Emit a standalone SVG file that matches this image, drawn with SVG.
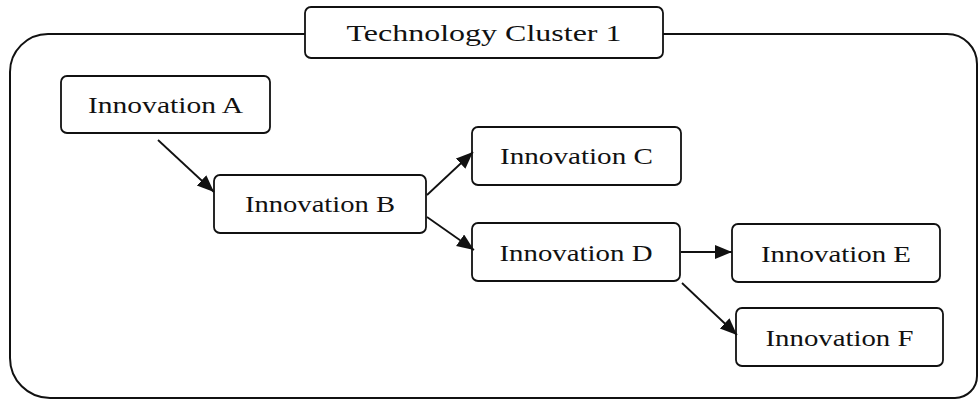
<svg xmlns="http://www.w3.org/2000/svg" width="979" height="400" viewBox="0 0 979 400">
<style>
.box{fill:#fff;stroke:#111;stroke-width:1.8}
.frame{fill:none;stroke:#111;stroke-width:2}
.lbl{font-family:"Liberation Serif","DejaVu Serif",serif;font-size:23px;fill:#111;text-anchor:middle}
.conn{stroke:#111;stroke-width:1.8;fill:none}
</style>
<defs>
<marker id="ah" markerUnits="userSpaceOnUse" markerWidth="18" markerHeight="16" refX="17" refY="7" orient="auto">
<path d="M0,0 L17,7 L0,14 z" fill="#111"/>
</marker>
</defs>
<g id="cluster">
<path class="frame" d="M305,34 H48 A38 38 0 0 0 10,72 V358 A40 40 0 0 0 50,398 H955 A22 22 0 0 0 977,376 V64 A30 30 0 0 0 947,34 H663"/>
</g>
<g id="title">
<rect class="box" x="305" y="7" width="358" height="51" rx="6"/>
<text class="lbl" x="484" y="41" textLength="275" lengthAdjust="spacingAndGlyphs">Technology  Cluster  1</text>
</g>
<g id="innovA">
<rect class="box" x="61" y="76" width="209" height="57" rx="6"/>
<text class="lbl" x="165.5" y="113" textLength="155" lengthAdjust="spacingAndGlyphs">Innovation  A</text>
</g>
<g id="innovB">
<rect class="box" x="214" y="175" width="212" height="58" rx="6"/>
<text class="lbl" x="320" y="212" textLength="150" lengthAdjust="spacingAndGlyphs">Innovation  B</text>
</g>
<g id="innovC">
<rect class="box" x="472" y="127" width="209" height="58" rx="6"/>
<text class="lbl" x="576.5" y="164" textLength="153" lengthAdjust="spacingAndGlyphs">Innovation  C</text>
</g>
<g id="innovD">
<rect class="box" x="472" y="223" width="208" height="58" rx="6"/>
<text class="lbl" x="576" y="261" textLength="153" lengthAdjust="spacingAndGlyphs">Innovation  D</text>
</g>
<g id="innovE">
<rect class="box" x="732" y="224" width="208" height="58" rx="6"/>
<text class="lbl" x="836" y="262" textLength="150" lengthAdjust="spacingAndGlyphs">Innovation  E</text>
</g>
<g id="innovF">
<rect class="box" x="736" y="308" width="207" height="58" rx="6"/>
<text class="lbl" x="839.5" y="346" textLength="148" lengthAdjust="spacingAndGlyphs">Innovation  F</text>
</g>
<g id="connectors">
<line class="conn" x1="158" y1="140" x2="214" y2="192" marker-end="url(#ah)"/>
<line class="conn" x1="427" y1="195" x2="473" y2="152" marker-end="url(#ah)"/>
<line class="conn" x1="427" y1="217" x2="474" y2="250" marker-end="url(#ah)"/>
<line class="conn" x1="681" y1="252" x2="732" y2="252" marker-end="url(#ah)"/>
<line class="conn" x1="682" y1="283" x2="737" y2="335" marker-end="url(#ah)"/>
</g>
</svg>
